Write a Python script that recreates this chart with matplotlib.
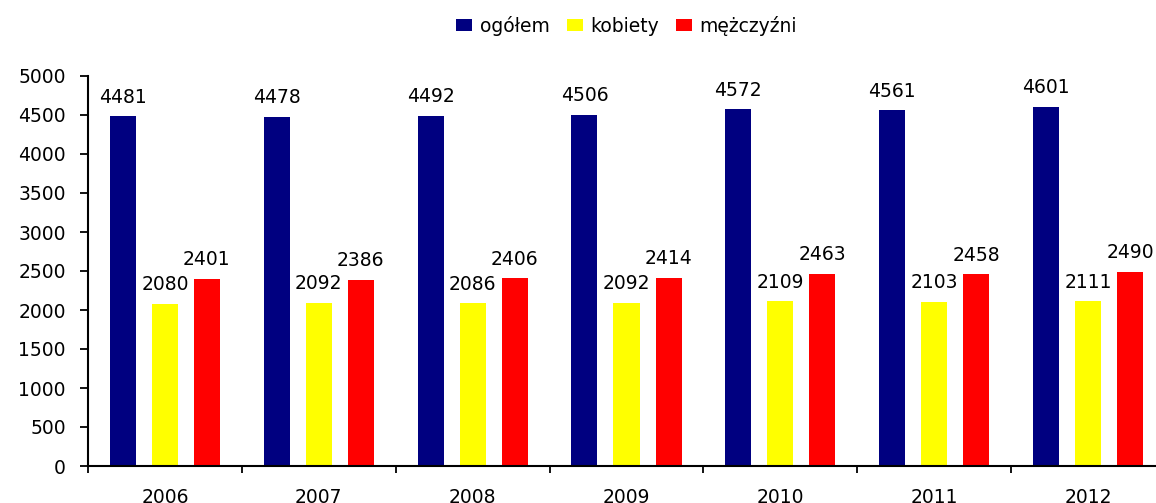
import matplotlib
import matplotlib.pyplot as plt
import numpy as np

matplotlib.use('Agg')
plt.rcParams['font.family'] = ['DejaVu Sans']

years = ['2006', '2007', '2008', '2009', '2010', '2011', '2012']
ogolem = [4481, 4478, 4492, 4506, 4572, 4561, 4601]
kobiety = [2080, 2092, 2086, 2092, 2109, 2103, 2111]
mezczyzni = [2401, 2386, 2406, 2414, 2463, 2458, 2490]
series_names = ['ogółem', 'kobiety', 'mężczyźni']
colors = ['#000080', '#FFFF00', '#FF0000']

FS = 13.5

fig = plt.figure(figsize=(11.56, 5.03), dpi=100)
ax = fig.add_axes([88 / 1156, 37 / 503, 1077 / 1156, 390 / 503])

x = np.arange(len(years))
offset = 0.273
width = 0.169
for i, (vals, name, col) in enumerate(zip([ogolem, kobiety, mezczyzni], series_names, colors)):
    bars = ax.bar(x + (i - 1) * offset, vals, width, color=col, label=name)
    for b, v in zip(bars, vals):
        ax.annotate(str(v), (b.get_x() + b.get_width() / 2, v), xytext=(0, 7),
                    textcoords='offset points', ha='center', va='bottom', fontsize=FS)

ax.set_xlim(-0.5, len(years) - 0.5)
ax.set_ylim(0, 5000)
ax.set_yticks(range(0, 5001, 500))
ax.set_xticks(x)
ax.set_xticklabels(years)
ax.set_xticks(np.arange(-0.5, len(years)), minor=True)
ax.tick_params(axis='x', which='major', length=0, pad=16, labelsize=FS)
ax.tick_params(axis='x', which='minor', length=5, width=1.3, direction='out')
ax.tick_params(axis='y', length=6, width=1.3, direction='out', pad=10, labelsize=FS)

for s in ['top', 'right']:
    ax.spines[s].set_visible(False)
for s in ['left', 'bottom']:
    ax.spines[s].set_linewidth(1.5)

ax.legend(loc='center', bbox_to_anchor=(0.5, (503 - 26 - 37) / 390), ncol=3, frameon=False,
          fontsize=FS, handlelength=0.85, handleheight=0.6, handletextpad=0.4, columnspacing=0.9)

fig.savefig('out.png', dpi=100)
